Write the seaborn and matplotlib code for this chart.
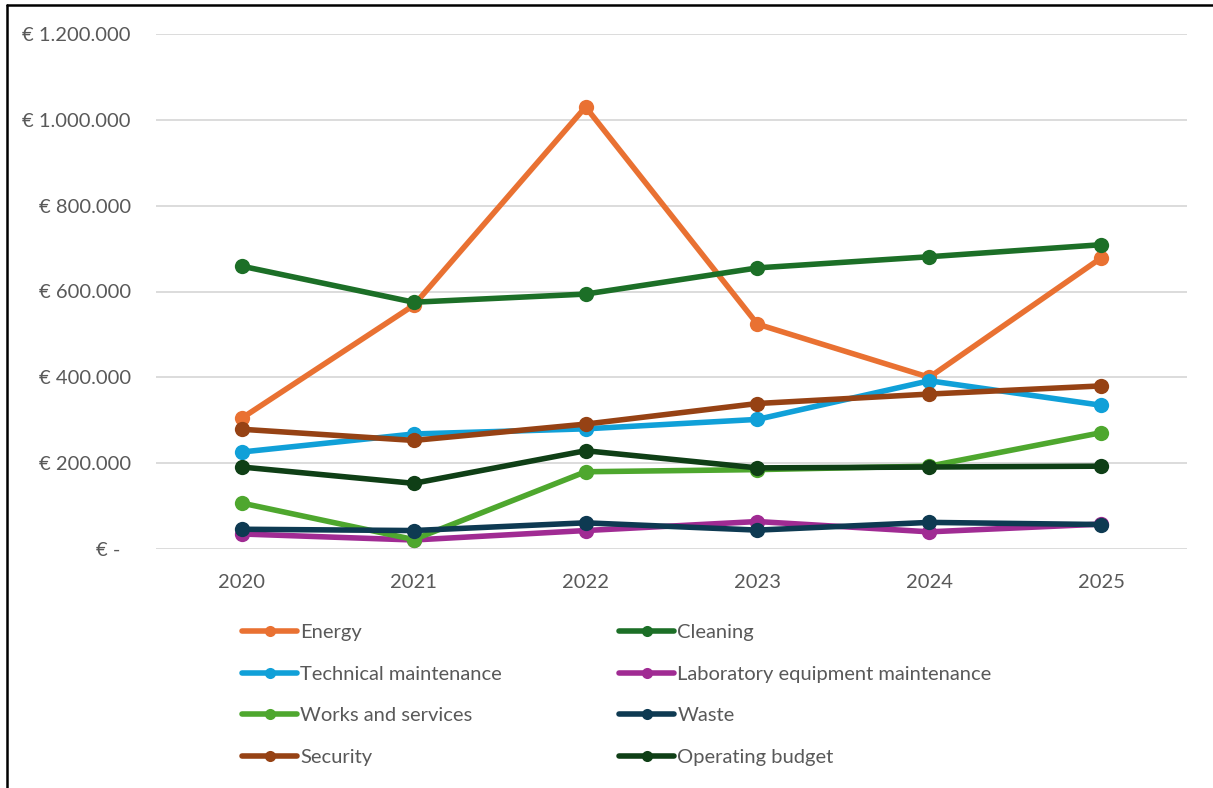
import matplotlib
matplotlib.use("Agg")
import matplotlib.pyplot as plt
from matplotlib.lines import Line2D
from matplotlib.ticker import FuncFormatter
import pandas as pd
import seaborn as sns

years = [2020, 2021, 2022, 2023, 2024, 2025]

energy = [305000, 568000, 1030000, 524000, 400000, 678000]
cleaning = [659000, 575000, 594000, 655000, 681000, 709000]
technical = [226000, 268000, 280000, 302000, 392000, 335000]
laboratory = [35000, 21000, 43000, 64000, 40000, 58000]
works = [107000, 22000, 180000, 185000, 193000, 271000]
waste = [46000, 43000, 61000, 44000, 62000, 57000]
security = [279000, 253000, 291000, 339000, 361000, 380000]
operating = [191000, 153000, 229000, 189000, 191000, 193000]

series_names = [
    "Energy", "Cleaning", "Technical maintenance",
    "Laboratory equipment maintenance", "Works and services", "Waste",
    "Security", "Operating budget",
]
series_values = [energy, cleaning, technical, laboratory, works, waste,
                 security, operating]
series_colors = ["#E97132", "#1C6F27", "#10A0D8", "#A02B93", "#4EA72E",
                 "#0E3A52", "#964214", "#0F3F16"]

rows = []
for name, vals in zip(series_names, series_values):
    for y, v in zip(years, vals):
        rows.append({"Year": y, "Cost": v, "Series": name})
df = pd.DataFrame(rows)

sns.set_theme(style="white")
plt.rcParams["font.family"] = ["Lato", "DejaVu Sans"]
text_color = "#595959"

fig = plt.figure(figsize=(12.13, 7.88), dpi=100)
ax = fig.add_axes([156 / 1213, 1 - 549 / 788, (1187 - 156) / 1213, (549 - 34) / 788])

palette = dict(zip(series_names, series_colors))
sns.lineplot(data=df, x="Year", y="Cost", hue="Series", hue_order=series_names,
             palette=palette, marker="o", markersize=11, markeredgewidth=0,
             linewidth=4.0, legend=False, ax=ax, zorder=3)

ax.set_xlim(2019.5, 2025.5)
ax.set_ylim(0, 1200000)
ax.set_xticks(years)
ax.set_xticklabels([str(y) for y in years])
ax.set_yticks(range(0, 1200001, 200000))


def euro(v, _pos):
    if v == 0:
        return "€ -  "
    return "€ " + f"{int(v):,}".replace(",", ".")


ax.yaxis.set_major_formatter(FuncFormatter(euro))
ax.grid(axis="y", color="#D9D9D9", linewidth=1.3)
ax.grid(axis="x", visible=False)
for s in ax.spines.values():
    s.set_visible(False)
ax.tick_params(axis="both", length=0, labelsize=14.5, labelcolor=text_color)
ax.tick_params(axis="y", pad=18)
ax.tick_params(axis="x", pad=18)
ax.set_xlabel("")
ax.set_ylabel("")

# legend laid out in two columns, filled row by row
col_left = [0, 2, 4, 6]
col_right = [1, 3, 5, 7]
for idx, x0 in ((col_left, 242 / 1213), (col_right, 619 / 1213)):
    handles = [Line2D([0], [0], color=series_colors[i], linewidth=4.0,
                      marker="o", markersize=8, markeredgewidth=0)
               for i in idx]
    labels = [series_names[i] for i in idx]
    fig.legend(handles, labels, loc="upper left",
               bbox_to_anchor=(x0, 1 - 624 / 788), frameon=False,
               fontsize=14.5, labelcolor=text_color, handlelength=2.75,
               handletextpad=0.15, labelspacing=1.22, borderpad=0,
               borderaxespad=0)

# outer frame along the top and left edges
fig.add_artist(Line2D([7 / 1213, 7 / 1213], [0, 1 - 5 / 788],
                      color="black", linewidth=1.8, transform=fig.transFigure))
fig.add_artist(Line2D([7 / 1213, 1], [1 - 5 / 788, 1 - 5 / 788],
                      color="black", linewidth=1.8, transform=fig.transFigure))

fig.savefig("out.png", dpi=100, facecolor="white")
